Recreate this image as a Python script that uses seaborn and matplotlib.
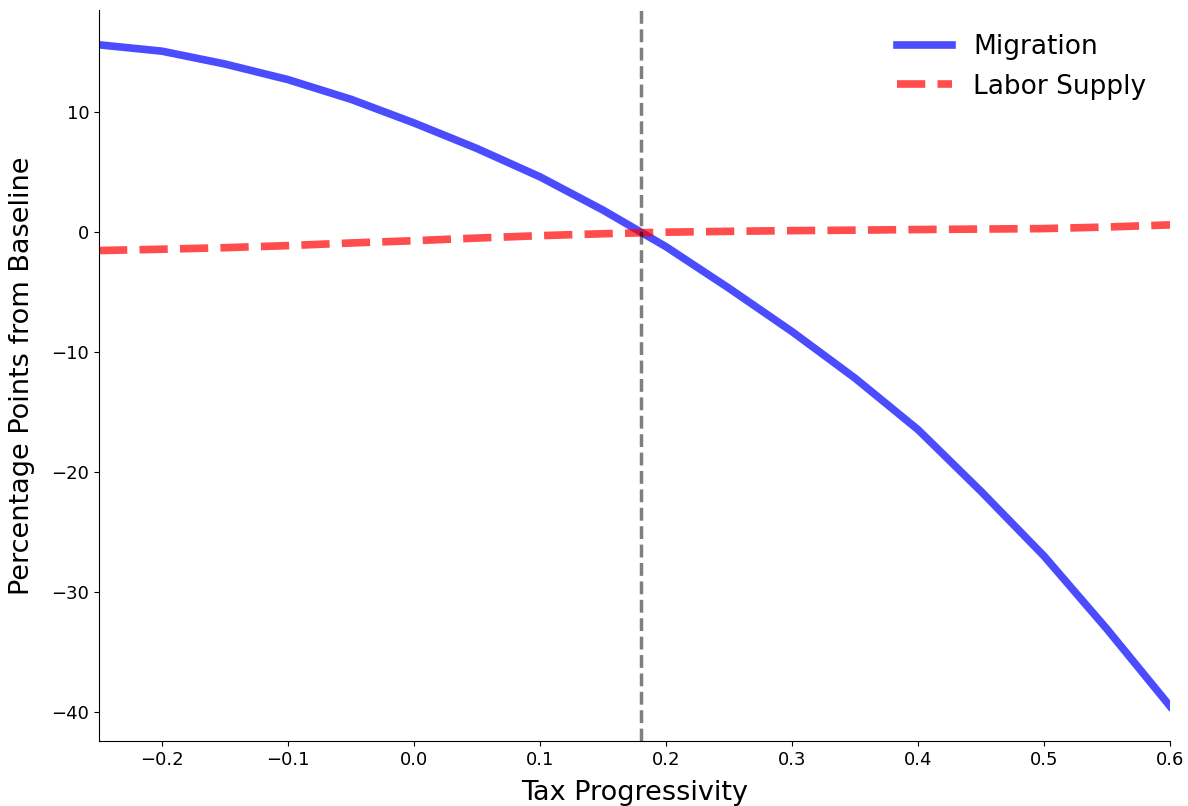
import numpy as np
import pandas as pd
import matplotlib
matplotlib.use("Agg")
import matplotlib.pyplot as plt
import seaborn as sns

# Data
tax_progressivity = [-0.25, -0.20, -0.15, -0.10, -0.05, 0.00, 0.05, 0.10, 0.15, 0.20,
                     0.25, 0.30, 0.35, 0.40, 0.45, 0.50, 0.55, 0.60]
migration = [15.6, 15.07, 14.0, 12.7, 11.06, 9.09, 6.96, 4.6, 1.83, -1.22,
             -4.68, -8.29, -12.17, -16.46, -21.6, -26.99, -33.08, -39.5]
labor_supply = [-1.54, -1.43, -1.30, -1.13, -0.91, -0.72, -0.50, -0.30, -0.14, -0.01,
                0.06, 0.12, 0.16, 0.21, 0.25, 0.29, 0.42, 0.60]
baseline_progressivity = 0.18

sns.set_style("ticks")
plt.rcParams['font.family'] = ['DejaVu Sans']
plt.rcParams.update({
    "text.color": "black",
    "axes.labelcolor": "black",
    "xtick.color": "black",
    "ytick.color": "black",
    "axes.edgecolor": "black",
    "lines.solid_capstyle": "projecting",
})

fig = plt.figure(figsize=(11.88, 8.06), dpi=100)
ax = fig.add_axes([99/1188, 1 - 741/806, (1170-99)/1188, (741-10)/806])

df = pd.DataFrame({"x": tax_progressivity, "Migration": migration, "Labor Supply": labor_supply})

sns.lineplot(data=df, x="x", y="Migration", ax=ax, color="blue", alpha=0.7,
             linewidth=5.5, label="Migration")
sns.lineplot(data=df, x="x", y="Labor Supply", ax=ax, color="red", alpha=0.7,
             linewidth=5.5, linestyle="--", label="Labor Supply")
ax.axvline(baseline_progressivity, color="black", alpha=0.5, linestyle="--", linewidth=2.5)

ax.set_xlim(-0.25, 0.6)
ax.set_ylim(-42.4, 18.5)
ax.set_xlabel("Tax Progressivity", fontsize=19.5, labelpad=8)
ax.set_ylabel("Percentage Points from Baseline", fontsize=19.5, labelpad=12)
ax.tick_params(labelsize=13, colors="black")
sns.despine(ax=ax)

leg = ax.legend(loc="upper right", bbox_to_anchor=(1 - 5/1071, 1 - 6/731),
                frameon=False, fontsize=19, handlelength=2.1, borderaxespad=0.3)

fig.savefig("out.png", dpi=100)
